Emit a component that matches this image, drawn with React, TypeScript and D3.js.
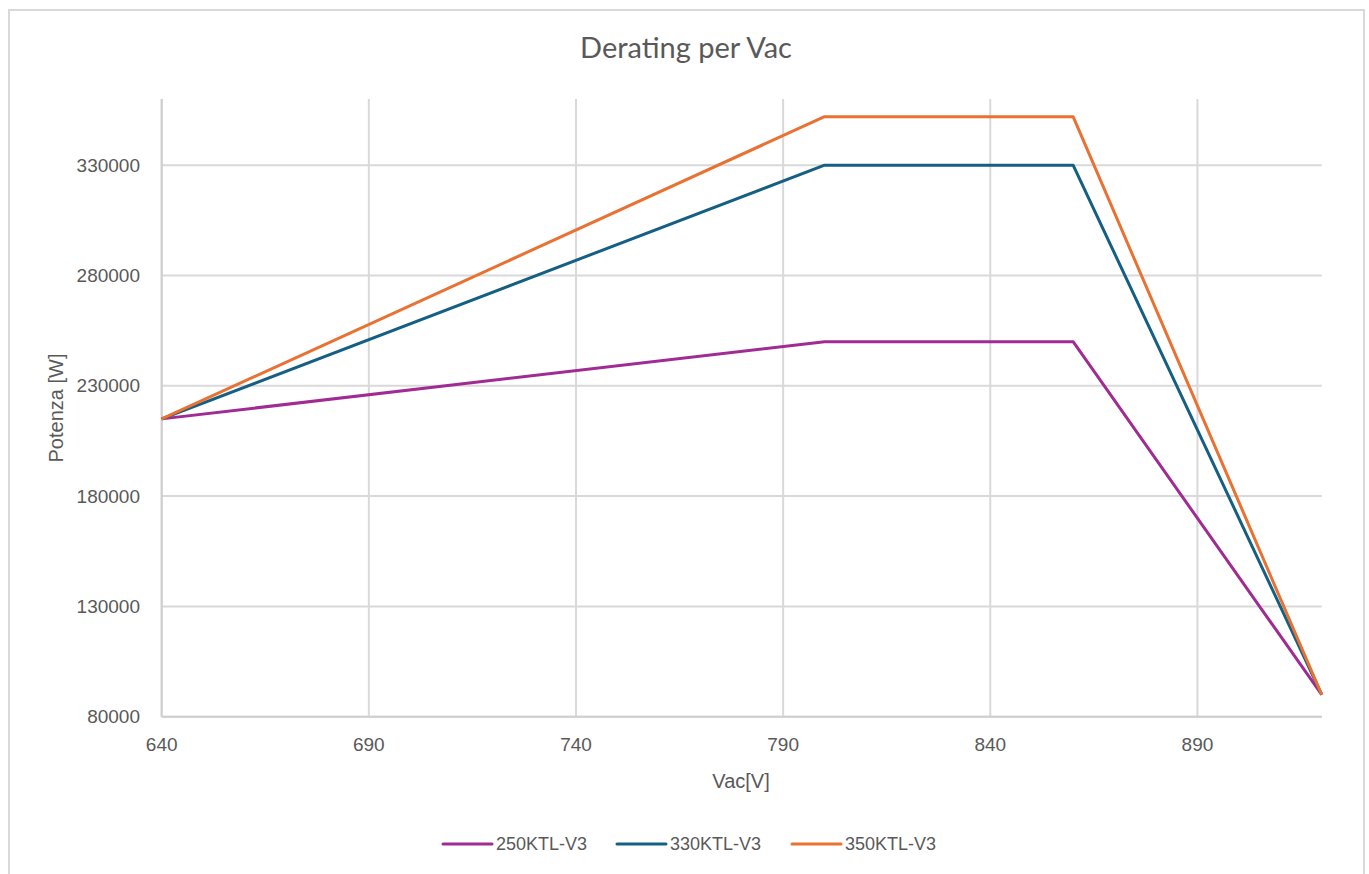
import React from "react";
import * as d3 from "d3";

const vac = [640, 800, 860, 920];
const s250 = [215000, 250000, 250000, 90000];
const s330 = [215000, 330000, 330000, 90000];
const s350 = [215000, 352000, 352000, 90000];
const seriesNames = ["250KTL-V3", "330KTL-V3", "350KTL-V3"];
const seriesColors = ["#A02B93", "#156082", "#E97132"];
const xTicks = [640, 690, 740, 790, 840, 890];
const yTicks = [80000, 130000, 180000, 230000, 280000, 330000];

const W = 1369;
const H = 874;
const M = { left: 161.7, right: 1321.7, top: 99, bottom: 716.7 };

export default function App() {
  const x = d3.scaleLinear().domain([640, 920]).range([M.left, M.right]);
  const y = d3.scaleLinear().domain([80000, 360000]).range([M.bottom, M.top]);
  const seriesValues = [s250, s330, s350];
  const line = d3
    .line<[number, number]>()
    .x((d) => x(d[0]))
    .y((d) => y(d[1]));
  const font = "'Liberation Sans', Arial, sans-serif";
  const textColor = "#595959";
  const grid = "#d9d9d9";

  const legendLineX = [443, 617, 792];

  return (
    <svg
      width={W}
      height={H}
      style={{ position: "fixed", left: 0, top: 0, background: "#fff" }}
    >
      <rect x={0} y={0} width={W} height={H} fill="#fff" />
      <rect x={9} y={10} width={1355} height={H + 20} fill="none" stroke="#d9d9d9" strokeWidth={2} />
      <text
        x={686}
        y={58}
        textAnchor="middle"
        fontFamily="Lato, 'Open Sans', sans-serif"
        fontSize={29}
        fill={textColor}
      >
        Derating per Vac
      </text>

      {/* gridlines */}
      {yTicks.map((t) => (
        <line key={"gy" + t} x1={M.left} x2={M.right} y1={y(t)} y2={y(t)} stroke={grid} strokeWidth={2} />
      ))}
      {xTicks.map((t) => (
        <line key={"gx" + t} x1={x(t)} x2={x(t)} y1={M.top} y2={M.bottom} stroke={grid} strokeWidth={2} />
      ))}
      <line x1={M.left} x2={M.left} y1={M.top} y2={M.bottom} stroke="#cfcfcf" strokeWidth={2} />
      <line x1={M.left} x2={M.right} y1={M.bottom} y2={M.bottom} stroke="#cfcfcf" strokeWidth={2} />

      {/* tick labels */}
      {yTicks.map((t) => (
        <text
          key={"ty" + t}
          x={140}
          y={y(t)}
          dy="0.35em"
          textAnchor="end"
          fontFamily={font}
          fontSize={19}
          fill={textColor}
        >
          {t}
        </text>
      ))}
      {xTicks.map((t) => (
        <text
          key={"tx" + t}
          x={x(t)}
          y={744.5}
          dy="0.35em"
          textAnchor="middle"
          fontFamily={font}
          fontSize={19}
          fill={textColor}
        >
          {t}
        </text>
      ))}

      {/* axis titles */}
      <text x={741} y={781} dy="0.35em" textAnchor="middle" fontFamily={font} fontSize={20} fill={textColor}>
        Vac[V]
      </text>
      <text
        transform={`translate(56,408) rotate(-90)`}
        dy="0.35em"
        textAnchor="middle"
        fontFamily={font}
        fontSize={20}
        fill={textColor}
      >
        Potenza [W]
      </text>

      {/* series */}
      {seriesValues.map((vals, i) => (
        <path
          key={"s" + i}
          d={line(vac.map((v, j) => [v, vals[j]] as [number, number])) || ""}
          fill="none"
          stroke={seriesColors[i]}
          strokeWidth={3}
          strokeLinejoin="round"
        />
      ))}

      {/* legend */}
      {seriesNames.map((n, i) => (
        <g key={"l" + i}>
          <line
            x1={legendLineX[i]}
            x2={legendLineX[i] + 49}
            y1={844}
            y2={844}
            stroke={seriesColors[i]}
            strokeWidth={3}
            strokeLinecap="round"
          />
          <text
            x={legendLineX[i] + 53}
            y={844}
            dy="0.35em"
            fontFamily={font}
            fontSize={18}
            fill={textColor}
          >
            {n}
          </text>
        </g>
      ))}
    </svg>
  );
}
